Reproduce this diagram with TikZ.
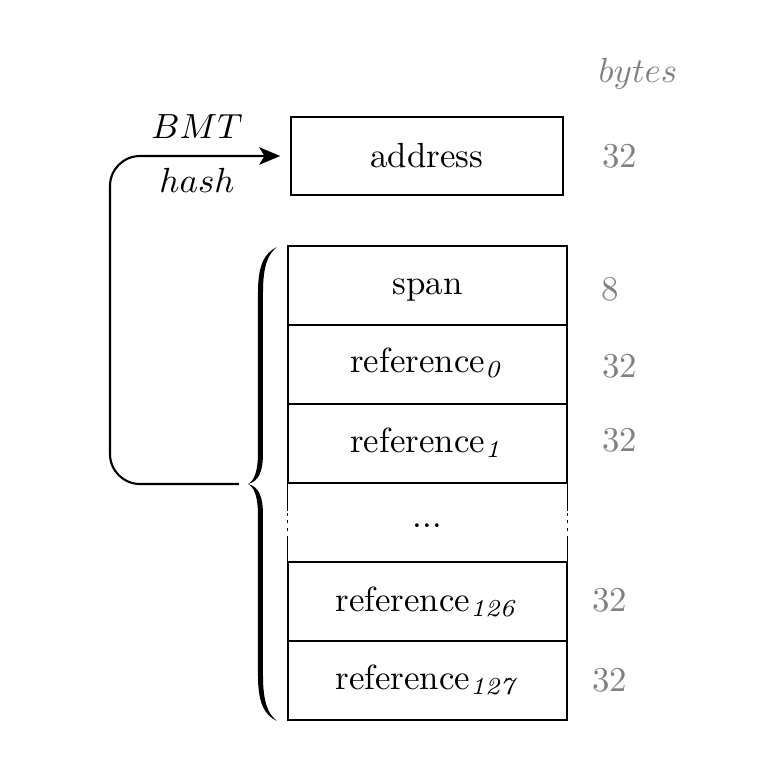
\documentclass[tikz,border=0pt]{standalone}
\usetikzlibrary{arrows.meta}
\begin{document}
\begin{tikzpicture}[x=0.2865pt,y=-0.2865pt,
  cell/.style={draw,line width=0.4pt,minimum width=79.93pt,minimum height=22.63pt,inner sep=0pt,text height=6.94pt,text depth=1.94pt},
  plaincell/.style={minimum width=79.93pt,minimum height=22.63pt,inner sep=0pt,text height=6.94pt,text depth=1.94pt},
  bytenum/.style={text=gray,inner sep=0pt},
  lbl/.style={inner sep=0pt},
  conn/.style={line width=0.6pt,rounded corners=8.6pt,-{Stealth[length=6pt,width=5pt,inset=1.5pt]}}]
\useasboundingbox (0,0) rectangle (776,782);
% bytes column
\node[bytenum] (bytes) at (638,74) {$bytes$};
% address
\node[draw,line width=0.4pt,minimum width=77.93pt,minimum height=22.35pt,inner sep=0pt] (address) at (427,156) {address};
\node[bytenum] (baddr) at (620,156) {32};
% stack
\node[cell] (span) at (427.5,285.5) {span};
\node[cell] (ref0) at (427.5,364.5) {\raisebox{0.3pt}{reference$_{\mathit{0}}$}};
\node[cell] (ref1) at (427.5,443.5) {reference$_{\mathit{1}}$};
\node[plaincell] (dots) at (427.5,522.5) {\raisebox{1pt}{...}};
\node[cell] (ref126) at (427.5,601.5) {\raisebox{-0.3pt}{reference$_{\mathit{126}}$}};
\node[cell] (ref127) at (427.5,680.5) {reference$_{\mathit{127}}$};
\node[bytenum] (bspan) at (610,289) {8};
\node[bytenum] (b0) at (620,366) {32};
\node[bytenum] (b1) at (620,440) {32};
\node[bytenum] (b126) at (610,600) {32};
\node[bytenum] (b127) at (610,680) {32};
% broken sides of the dots row
\foreach \s in {west,east}{
  \draw[line width=0.4pt] (dots.north \s) -- ++(0,29);
  \draw[line width=0.4pt] (dots.north \s) ++(0,31) -- ++(0,3);
  \draw[line width=0.4pt] (dots.north \s) ++(0,38) -- ++(0,3);
  \draw[line width=0.4pt] (dots.north \s) ++(0,46) -- ++(0,3);
  \draw[line width=0.4pt] (dots.south \s) -- ++(0,-27);
}
% brace
\fill (277,247) .. controls (264,253) and (258,266) .. (258,292) -- (258,452)
  .. controls (258,472) and (254,481) .. (248,484)
  .. controls (254,487) and (258,496) .. (258,516) -- (258,676)
  .. controls (258,702) and (264,715) .. (277,721)
  .. controls (268,714) and (263,702) .. (263,676) -- (263,516)
  .. controls (263,496) and (259,487) .. (248,484)
  .. controls (259,481) and (263,472) .. (263,452) -- (263,292)
  .. controls (263,266) and (268,254) .. (277,247) -- cycle;
\coordinate (bracetip) at (239,484);
% arrow
\coordinate (corner1) at (110,484);
\coordinate (corner2) at (110,156);
\draw[conn] (bracetip) -- (corner1) -- (corner2) -- ([xshift=-2.9pt]address.west);
\node[lbl] (bmt) at (197,127) {$BMT$};
\node[lbl] (hash) at (197,180) {$hash$};
\end{tikzpicture}
\end{document}
